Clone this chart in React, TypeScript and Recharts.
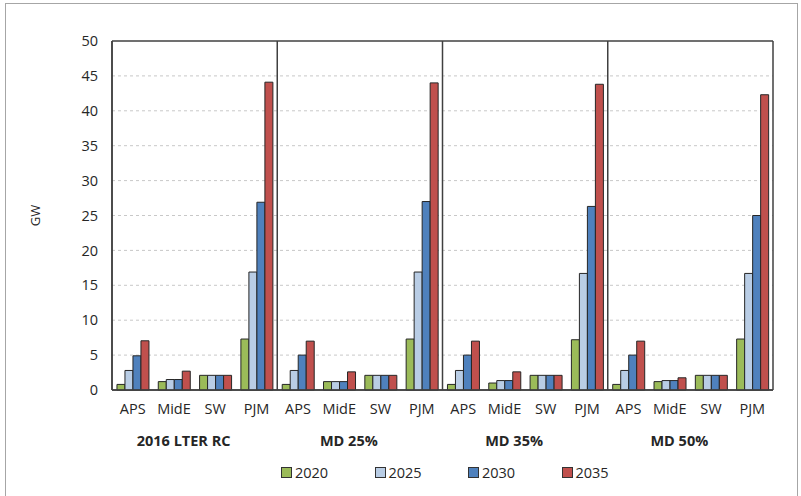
import React from "react";
import {
  BarChart,
  Bar,
  XAxis,
  YAxis,
  CartesianGrid,
  Legend,
} from "recharts";

const regions = ["APS", "MidE", "SW", "PJM"];
const scenarios = ["2016 LTER RC", "MD 25%", "MD 35%", "MD 50%"];
const yTicks = [0, 5, 10, 15, 20, 25, 30, 35, 40, 45, 50];

// one value per region, scenario by scenario
const gw2020 = [0.8, 1.2, 2.1, 7.3, 0.8, 1.2, 2.1, 7.3, 0.8, 1.0, 2.1, 7.2, 0.8, 1.2, 2.1, 7.3];
const gw2025 = [2.8, 1.5, 2.1, 16.9, 2.8, 1.2, 2.1, 16.9, 2.8, 1.35, 2.1, 16.7, 2.8, 1.35, 2.1, 16.7];
const gw2030 = [4.9, 1.5, 2.1, 26.9, 5.0, 1.2, 2.1, 27.0, 5.0, 1.35, 2.1, 26.3, 5.0, 1.35, 2.1, 25.0];
const gw2035 = [7.05, 2.7, 2.1, 44.1, 7.0, 2.6, 2.1, 44.0, 7.0, 2.6, 2.1, 43.8, 7.0, 1.75, 2.1, 42.3];

const seriesNames = ["2020", "2025", "2030", "2035"];
const seriesColors = ["#9bbb59", "#b9cde5", "#4f81bd", "#c0504d"];

const data = scenarios.flatMap((scenario, s) =>
  regions.map((region, r) => {
    const i = s * 4 + r;
    return {
      key: `${region}-${s}`,
      region,
      scenario,
      "2020": gw2020[i],
      "2025": gw2025[i],
      "2030": gw2030[i],
      "2035": gw2035[i],
    };
  })
);

const W = 801;
const H = 496;
const M = { top: 41, right: 28, left: 0, bottom: 10 };
const Y_AXIS_W = 112;
const PLOT_W = W - M.right - Y_AXIS_W;
const BAND = PLOT_W / data.length;
const FONT = "'Open Sans', 'Liberation Sans', sans-serif";

function CategoryTick(props: any) {
  const { x, y, payload, index } = props;
  const row = data[index] || data.find((d) => d.key === payload.value);
  return (
    <g>
      <text x={x} y={y + 16} textAnchor="middle" fontSize={14.5} fill="#262626" fontFamily={FONT}>
        {row ? row.region : ""}
      </text>
      {index % 4 === 1 && row ? (
        <text
          x={x + BAND / 2 - 11}
          y={y + 48}
          textAnchor="middle"
          fontSize={14.5}
          fontWeight="bold"
          fill="#262626"
          fontFamily={FONT}
        >
          {row.scenario}
        </text>
      ) : null}
    </g>
  );
}

function LegendBox() {
  return (
    <div style={{ position: "relative", height: 30, width: W }}>
      {seriesNames.map((name, i) => (
        <div
          key={name}
          style={{
            position: "absolute",
            left: 281 + i * 93.5,
            top: 7,
            display: "flex",
            alignItems: "center",
            fontFamily: FONT,
            fontSize: 14.5,
            color: "#262626",
          }}
        >
          <span
            style={{
              display: "inline-block",
              width: 9,
              height: 9,
              background: seriesColors[i],
              border: "1px solid #333",
              marginRight: 3,
            }}
          />
          {name}
        </div>
      ))}
    </div>
  );
}

export default function App() {
  return (
    <div style={{ position: "absolute", left: 0, top: 0, width: W, height: H, background: "#fff" }}>
      <div
        style={{
          position: "absolute",
          left: 5,
          top: 3,
          width: 793,
          height: H,
          border: "1.5px solid #a6a6a6",
          borderBottom: "none",
          boxSizing: "border-box",
        }}
      />
      <BarChart
        width={W}
        height={H}
        data={data}
        margin={M}
        barCategoryGap="12%"
        barGap={0}
      >
        <CartesianGrid
          vertical={false}
          stroke="#c8c8c8"
          strokeDasharray="3 3"
          horizontalCoordinatesGenerator={({ offset }: any) =>
            yTicks.slice(1, -1).map((t) => offset.top + offset.height * (1 - t / 50))
          }
        />
        <XAxis
          dataKey="key"
          interval={0}
          height={66}
          tickLine={false}
          axisLine={{ stroke: "#404040", strokeWidth: 1.5 }}
          tick={<CategoryTick />}
        />
        <YAxis
          width={Y_AXIS_W}
          domain={[0, 50]}
          ticks={yTicks}
          tickLine={false}
          axisLine={{ stroke: "#404040", strokeWidth: 1.5 }}
          tick={{ fontSize: 14.5, fill: "#262626", fontFamily: FONT }}
          tickMargin={8}
          label={{
            value: "GW",
            angle: -90,
            position: "insideLeft",
            offset: 35,
            style: { fontSize: 13, fill: "#262626", fontFamily: FONT, textAnchor: "middle" },
          }}
        />
        {seriesNames.map((name, i) => (
          <Bar
            key={name}
            dataKey={name}
            fill={seriesColors[i]}
            stroke="#262626"
            strokeWidth={1}
            isAnimationActive={false}
          />
        ))}
        <CartesianGrid
          horizontal
          vertical
          fill="none"
          stroke="#404040"
          strokeWidth={1.5}
          horizontalCoordinatesGenerator={({ offset }: any) => [offset.top, offset.top + offset.height]}
          verticalCoordinatesGenerator={({ offset }: any) =>
            [0, 4, 8, 12, 16].map((k) => offset.left + (offset.width * k) / data.length)
          }
        />
        <Legend verticalAlign="bottom" content={<LegendBox />} wrapperStyle={{ left: 0, width: W }} />
      </BarChart>
    </div>
  );
}
